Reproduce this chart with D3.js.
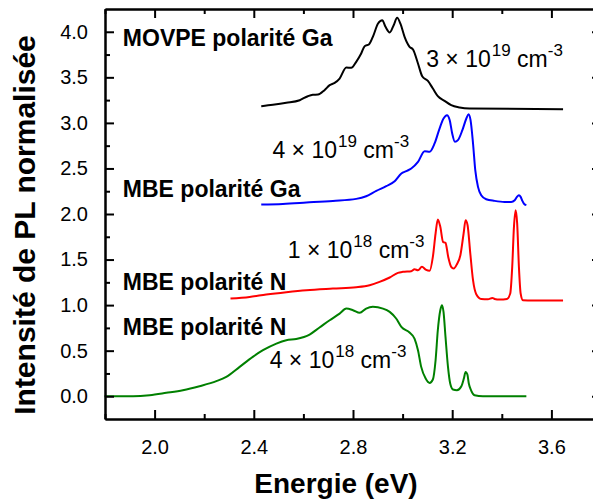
<!DOCTYPE html>
<html>
<head>
<meta charset="utf-8">
<script src="https://cdn.jsdelivr.net/npm/d3@7"></script>
<style>
  body { margin: 0; background: #fff; }
  svg { display: block; font-family: "Liberation Sans", Arial, sans-serif; }
  .axis text { font-size: 20px; fill: #000; }
  .axis path, .axis line { stroke: #000; stroke-width: 2; }
  .curve { fill: none; stroke-width: 2; stroke-linejoin: round; }
</style>
</head>
<body>
<div id="chart"></div>
<script>
// energy (eV), normalised PL intensity (offset per spectrum)
const movpeGa = [
  [2.430, 3.183], [2.477, 3.198], [2.531, 3.220], [2.585, 3.249], [2.618, 3.293],
  [2.638, 3.308], [2.659, 3.311], [2.685, 3.359], [2.706, 3.414], [2.726, 3.439],
  [2.746, 3.487], [2.773, 3.608], [2.793, 3.604], [2.813, 3.670], [2.833, 3.761],
  [2.847, 3.842], [2.864, 3.860], [2.880, 3.944], [2.901, 4.091], [2.918, 4.127],
  [2.931, 4.054], [2.948, 3.992], [2.964, 4.072], [2.978, 4.153], [2.992, 4.083],
  [3.008, 3.944], [3.028, 3.835], [3.042, 3.805], [3.062, 3.652], [3.079, 3.513],
  [3.102, 3.461], [3.122, 3.377], [3.142, 3.293], [3.169, 3.242], [3.196, 3.194],
  [3.230, 3.169], [3.270, 3.158], [3.647, 3.150]
]
const mbeGa = [
  [2.430, 2.104], [2.517, 2.111], [2.612, 2.126], [2.719, 2.144], [2.813, 2.166],
  [2.853, 2.195], [2.894, 2.254], [2.934, 2.305], [2.968, 2.360], [2.995, 2.444],
  [3.015, 2.470], [3.035, 2.499], [3.062, 2.572], [3.089, 2.689], [3.109, 2.682],
  [3.129, 2.774], [3.149, 2.938], [3.165, 3.048], [3.179, 3.085], [3.190, 3.030],
  [3.200, 2.883], [3.211, 2.792], [3.223, 2.810], [3.241, 2.920], [3.257, 3.048],
  [3.266, 3.095], [3.274, 3.030], [3.284, 2.774], [3.293, 2.481], [3.304, 2.298],
  [3.317, 2.206], [3.337, 2.162], [3.371, 2.144], [3.411, 2.133], [3.438, 2.133],
  [3.452, 2.151], [3.461, 2.188], [3.469, 2.206], [3.476, 2.188], [3.483, 2.144],
  [3.489, 2.115], [3.499, 2.097]
]
const mbeN1 = [
  [2.306, 1.072], [2.383, 1.090], [2.450, 1.116], [2.531, 1.142], [2.612, 1.164],
  [2.719, 1.182], [2.813, 1.196], [2.867, 1.218], [2.907, 1.255], [2.948, 1.303],
  [2.981, 1.354], [3.001, 1.365], [3.035, 1.372], [3.048, 1.394], [3.062, 1.383],
  [3.078, 1.420], [3.093, 1.390], [3.109, 1.376], [3.122, 1.529], [3.133, 1.786],
  [3.142, 1.939], [3.152, 1.859], [3.163, 1.694], [3.173, 1.683], [3.184, 1.529],
  [3.196, 1.420], [3.206, 1.401], [3.219, 1.449], [3.233, 1.548], [3.246, 1.786],
  [3.254, 1.932], [3.262, 1.877], [3.273, 1.566], [3.284, 1.273], [3.297, 1.120],
  [3.317, 1.068], [3.344, 1.065], [3.362, 1.079], [3.371, 1.068], [3.391, 1.061],
  [3.421, 1.068], [3.434, 1.127], [3.442, 1.420], [3.449, 1.859], [3.456, 2.042],
  [3.462, 1.895], [3.469, 1.420], [3.476, 1.127], [3.485, 1.054], [3.526, 1.050],
  [3.647, 1.050]
]
const mbeN4 = [
  [1.798, 0.000], [1.913, 0.000], [1.980, 0.011], [2.047, 0.037], [2.114, 0.066],
  [2.181, 0.110], [2.249, 0.165], [2.289, 0.212], [2.343, 0.322], [2.396, 0.432],
  [2.437, 0.505], [2.491, 0.578], [2.531, 0.615], [2.571, 0.629], [2.625, 0.677],
  [2.665, 0.754], [2.706, 0.834], [2.746, 0.907], [2.773, 0.962], [2.800, 0.944],
  [2.827, 0.915], [2.853, 0.962], [2.880, 0.981], [2.921, 0.962], [2.948, 0.926],
  [2.974, 0.853], [2.995, 0.761], [3.028, 0.699], [3.048, 0.633], [3.062, 0.505],
  [3.075, 0.322], [3.093, 0.194], [3.109, 0.146], [3.122, 0.183], [3.133, 0.395],
  [3.142, 0.724], [3.152, 0.944], [3.159, 0.999], [3.165, 0.926], [3.173, 0.651],
  [3.183, 0.322], [3.192, 0.139], [3.203, 0.073], [3.219, 0.066], [3.237, 0.110],
  [3.247, 0.194], [3.254, 0.267], [3.261, 0.241], [3.267, 0.139], [3.277, 0.059],
  [3.290, 0.011], [3.324, 0.000], [3.499, 0.000]
]

const xTicks = [2.0, 2.4, 2.8, 3.2, 3.6]
const xMinor = [1.8, 2.2, 2.6, 3.0, 3.4, 3.8]
const yTicks = [0, 0.5, 1.0, 1.5, 2.0, 2.5, 3.0, 3.5, 4.0]
const yMinor = [0.25, 0.75, 1.25, 1.75, 2.25, 2.75, 3.25, 3.75]

const series = [
  {data: movpeGa, color: '#000000'},
  {data: mbeGa, color: '#0000ff'},
  {data: mbeN1, color: '#ff0000'},
  {data: mbeN4, color: '#008000'}
]
const sampleLabels = [
  {text: 'MOVPE polarité Ga', x: 1.872, y: 3.84},
  {text: 'MBE polarité Ga', x: 1.872, y: 2.19},
  {text: 'MBE polarité N', x: 1.872, y: 1.17},
  {text: 'MBE polarité N', x: 1.872, y: 0.67}
]
const dopingLabels = [
  {mant: '3', exp: '19', x: 3.095, y: 3.615},
  {mant: '4', exp: '19', x: 2.475, y: 2.61},
  {mant: '1', exp: '18', x: 2.537, y: 1.52},
  {mant: '4', exp: '18', x: 2.464, y: 0.305}
]

const width = 593
const height = 500
const margin = {top: 9, right: -8, bottom: 81, left: 105}
const innerW = width - margin.left - margin.right
const innerH = height - margin.top - margin.bottom

const x = d3.scaleLinear().domain([1.8, 3.8]).range([0, innerW])
const y = d3.scaleLinear().domain([-0.25, 4.25]).range([innerH, 0])

const svg = d3.select('#chart').append('svg')
  .attr('width', width)
  .attr('height', height)
const chart = svg.append('g')
  .attr('transform', `translate(${margin.left}, ${margin.top})`)

const line = d3.line()
  .x((d) => x(d[0]))
  .y((d) => y(d[1]))
  .curve(d3.curveMonotoneX)

chart.selectAll('.curve').data(series)
  .enter().append('path')
    .attr('class', 'curve')
    .attr('stroke', (d) => d.color)
    .attr('d', (d) => line(d.data))

// axes, ticks pointing inward
chart.append('g')
  .attr('class', 'axis')
  .attr('transform', `translate(0, ${innerH})`)
  .call(d3.axisBottom(x).tickValues(xTicks).tickSizeInner(-9).tickSizeOuter(0)
    .tickPadding(21).tickFormat(d3.format('.1f')))
chart.append('g')
  .attr('class', 'axis')
  .attr('transform', `translate(0, ${innerH})`)
  .call(d3.axisBottom(x).tickValues(xMinor).tickSizeInner(-5).tickSizeOuter(0).tickFormat(''))
chart.append('g')
  .attr('class', 'axis')
  .call(d3.axisTop(x).tickValues(xTicks).tickSizeInner(-9).tickSizeOuter(0).tickFormat(''))
chart.append('g')
  .attr('class', 'axis')
  .call(d3.axisTop(x).tickValues(xMinor).tickSizeInner(-5).tickSizeOuter(0).tickFormat(''))
chart.append('g')
  .attr('class', 'axis')
  .call(d3.axisLeft(y).tickValues(yTicks).tickSizeInner(-9).tickSizeOuter(0)
    .tickPadding(17).tickFormat(d3.format('.1f')))
chart.append('g')
  .attr('class', 'axis')
  .call(d3.axisLeft(y).tickValues(yMinor).tickSizeInner(-5).tickSizeOuter(0).tickFormat(''))
chart.append('g')
  .attr('class', 'axis')
  .attr('transform', `translate(${innerW}, 0)`)
  .call(d3.axisRight(y).tickValues(yTicks).tickSizeInner(-9).tickSizeOuter(0).tickFormat(''))
chart.append('g')
  .attr('class', 'axis')
  .attr('transform', `translate(${innerW}, 0)`)
  .call(d3.axisRight(y).tickValues(yMinor).tickSizeInner(-5).tickSizeOuter(0).tickFormat(''))

// axis titles
svg.append('text')
  .attr('x', 336)
  .attr('y', 493)
  .attr('text-anchor', 'middle')
  .style('font-size', '28px')
  .style('font-weight', 'bold')
  .text('Energie (eV)')
svg.append('text')
  .attr('transform', 'translate(35, 225) rotate(-90)')
  .attr('text-anchor', 'middle')
  .style('font-size', '30px')
  .style('font-weight', 'bold')
  .text('Intensité de PL normalisée')

// annotations
chart.selectAll('.sample').data(sampleLabels)
  .enter().append('text')
    .attr('x', (d) => x(d.x))
    .attr('y', (d) => y(d.y))
    .style('font-size', '23px')
    .style('font-weight', 'bold')
    .text((d) => d.text)

const doping = chart.selectAll('.doping').data(dopingLabels)
  .enter().append('text')
    .attr('x', (d) => x(d.x))
    .attr('y', (d) => y(d.y))
    .style('font-size', '23px')
doping.append('tspan').text((d) => `${d.mant} × 10`)
doping.append('tspan').attr('dx', 1).attr('dy', -11).style('font-size', '17px').text((d) => d.exp)
doping.append('tspan').attr('dy', 11).text(' cm')
doping.append('tspan').attr('dy', -11).style('font-size', '17px').text('-3')
</script>
</body>
</html>
